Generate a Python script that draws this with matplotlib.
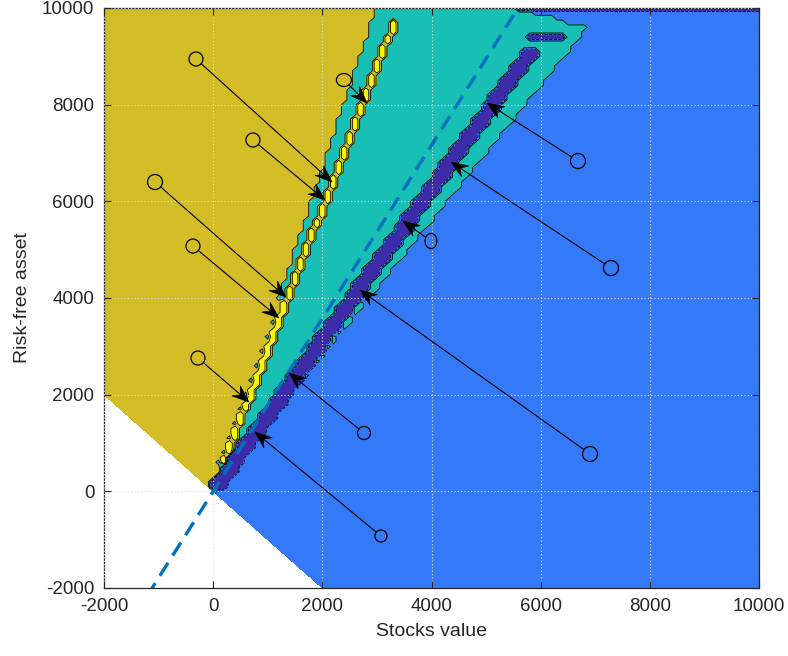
import numpy as np
import matplotlib
matplotlib.use("Agg")
import matplotlib.pyplot as plt
from matplotlib.patches import Ellipse, Polygon

plt.rcParams["font.family"] = ["Liberation Sans", "DejaVu Sans"]
plt.rcParams["axes.unicode_minus"] = False

# ---------------- data ----------------
x_ticks = [-2000, 0, 2000, 4000, 6000, 8000, 10000]
y_ticks = [-2000, 0, 2000, 4000, 6000, 8000, 10000]
x_label = "Stocks value"
y_label = "Risk-free asset"

# state grid (stocks value x, risk-free asset y)
grid_min, grid_max, grid_step = -2000, 10000, 100

# region codes
code_purple, code_blue, code_teal, code_olive, code_yellow = -2.0, 0.0, 1.0, 2.0, 4.0

# boundaries expressed as stock share p = x / (x + y)
share_olive_teal = 0.23
share_teal_blue = 0.417
share_yellow_band = 0.255
share_purple_band = 0.39
purple_band_halfwidth = 100
yellow_band_y = [500, 9700]
purple_band_y = [100, 9100]
olive_reaches_band_below_y = 4000
blue_touches_purple_below_y = 2400
teal_island_y = [3500, 3200, 2900, 2600, 2300, 2000, 1700, 1400, 1100, 800, 600]
top_rows_y = [10000, 9900, 9800, 9700]
top_rows_teal_share = [0.358, 0.372, 0.388, 0.40]
top_strip_x = [5600, 10000]
purple_island_y = 9400
purple_island_x = [5800, 6400]

# no-trade / Merton line: y = slope * x
merton_slope = 1.79

# annotation circles and arrow tips
circle_x = [-315, 729, -1066, -370, 2396, -278, 2763, 3074, 3990, 6683, 7288, 6904]
circle_y = [8945, 7269, 6400, 5075, 8510, 2758, 1207, -924, 5179, 6834, 4620, 773]
tip_x = [2177, 2048, 1334, 1206, 2818, 656, 1389, 766, 3477, 5016, 4357, 2690]
tip_y = [6400, 6027, 4020, 3586, 8034, 1848, 2448, 1227, 5593, 8034, 6813, 4164]

# ---------------- styles ----------------
region_colors = ["#3E2BAA", "#3379F8", "#17BFB5", "#D3BD27", "#F7F514"]
region_levels = [-2.5, -0.5, 0.5, 1.5, 2.5, 4.5]
circle_w_px = [14, 14, 15, 14, 15, 14, 13, 12, 12, 15, 15, 15]
circle_h_px = [14, 14, 15, 14, 13, 14, 13, 12, 15, 15, 15, 15]

W_PX, H_PX, DPI = 788, 656, 100
fig = plt.figure(figsize=(W_PX / DPI, H_PX / DPI), dpi=DPI)
ax = fig.add_axes([104 / W_PX, 68 / H_PX, 655 / W_PX, 580 / H_PX])
ax.set_xlim(x_ticks[0], x_ticks[-1])
ax.set_ylim(y_ticks[0], y_ticks[-1])

# ---------------- build the field ----------------
g = np.arange(grid_min, grid_max + grid_step, grid_step, dtype=float)
X, Y = np.meshgrid(g, g)
Wsum = X + Y
P = np.full_like(X, 0.3)
pos = Wsum > 0
P[pos] = X[pos] / Wsum[pos]
P[(Wsum == 0) & (X < 0)] = -np.inf
P[(Wsum == 0) & (X > 0)] = np.inf

Z = np.where(P < share_olive_teal, code_olive,
             np.where(P < share_teal_blue, code_teal, code_blue))


def row_of(yv):
    return int(round((yv - grid_min) / grid_step))


def col_of(xv):
    return int(round((xv - grid_min) / grid_step))


for yv, sh in zip(top_rows_y, top_rows_teal_share):
    r = row_of(yv)
    Z[r, (P[r] >= sh) & (Z[r] == code_teal)] = code_blue

# olive reaches the yellow band in the lower part
low = (Y < olive_reaches_band_below_y) & (P >= share_olive_teal) & (P < share_yellow_band) & pos
Z[low] = code_olive

# yellow band, one node per row
band_ratio = share_yellow_band / (1 - share_yellow_band)
for r, yv in enumerate(g):
    if yellow_band_y[0] <= yv <= yellow_band_y[1]:
        Z[r, col_of(band_ratio * yv)] = code_yellow

# teal islands just left of the band
for yv in teal_island_y:
    r = row_of(yv)
    Z[r, col_of(band_ratio * g[r]) - 1] = code_teal

# purple band, fixed width per row
purple_ratio = share_purple_band / (1 - share_purple_band)
for r, yv in enumerate(g):
    if purple_band_y[0] <= yv <= purple_band_y[1]:
        xc = purple_ratio * yv
        c0 = col_of(xc - purple_band_halfwidth)
        c1 = col_of(xc + purple_band_halfwidth)
        Z[r, c0:c1 + 1] = code_purple
        if yv < blue_touches_purple_below_y:
            right = Z[r, c1 + 1:]
            right[right == code_teal] = code_blue

# purple strip along the top edge and small island
rt = row_of(grid_max)
Z[rt, (X[rt] >= top_strip_x[0]) & (X[rt] <= top_strip_x[1])] = code_purple
ri = row_of(purple_island_y)
Z[ri, (X[ri] >= purple_island_x[0]) & (X[ri] <= purple_island_x[1])] = code_purple

Zm = np.ma.masked_where(Wsum < 0, Z)

ax.contourf(X, Y, Zm, levels=region_levels, colors=region_colors, zorder=1)
ax.contour(X, Y, Zm, levels=region_levels[1:-1], colors="#000000", linewidths=0.6, zorder=1.5)

# ---------------- Merton line ----------------
xl = np.array([x_ticks[0], x_ticks[-1]], dtype=float)
ax.plot(xl, merton_slope * xl, color="#0072BD", linewidth=2.4,
        dashes=(4.6, 2.6), zorder=3)

# ---------------- grid / axes styling ----------------
ax.set_xticks(x_ticks)
ax.set_yticks(y_ticks)
ax.set_xticklabels([str(v) for v in x_ticks])
ax.set_yticklabels([str(v) for v in y_ticks])
ax.grid(True, linestyle=(0, (1, 2)), color="#e0e0e0", linewidth=0.8)
ax.set_axisbelow(False)
ax.tick_params(direction="in", length=5, width=0.8, top=True, right=True,
               colors="#262626", labelsize=13.5, pad=7)
for s in ax.spines.values():
    s.set_color("#262626")
    s.set_linewidth(0.9)
ax.set_xlabel(x_label, fontsize=14, color="#262626", labelpad=6)
ax.set_ylabel(y_label, fontsize=14, color="#262626", labelpad=8)

# ---------------- annotations ----------------
fig.canvas.draw()
to_px = ax.transData.transform
to_data = ax.transData.inverted().transform
head_len, head_w, notch = 17.0, 13.0, 0.64
for cx, cy, tx, ty, cw, chh in zip(circle_x, circle_y, tip_x, tip_y, circle_w_px, circle_h_px):
    c = to_px((cx, cy))
    t = to_px((tx, ty))
    d = t - c
    dist = np.hypot(*d)
    u = d / dist
    a, b = cw / 2.0, chh / 2.0
    s = 1.0 / np.sqrt((u[0] / a) ** 2 + (u[1] / b) ** 2)
    start = c + s * u
    back = t - u * head_len * notch
    p0, p1 = to_data(start), to_data(back)
    ax.plot([p0[0], p1[0]], [p0[1], p1[1]], color="black", linewidth=0.8, zorder=4)
    wd = to_data(c + np.array([cw / 2.0, 0]))[0] - cx
    hd = to_data(c + np.array([0, chh / 2.0]))[1] - cy
    ax.add_patch(Ellipse((cx, cy), 2 * wd, 2 * hd, fill=False, edgecolor="black",
                         linewidth=0.9, zorder=4))
    nvec = np.array([-u[1], u[0]])
    pts = [t,
           t - u * head_len + nvec * head_w / 2,
           t - u * head_len * notch,
           t - u * head_len - nvec * head_w / 2]
    ax.add_patch(Polygon([to_data(p) for p in pts], closed=True, facecolor="black",
                         edgecolor="black", linewidth=0.5, zorder=5))

fig.savefig("out.png", dpi=DPI)
